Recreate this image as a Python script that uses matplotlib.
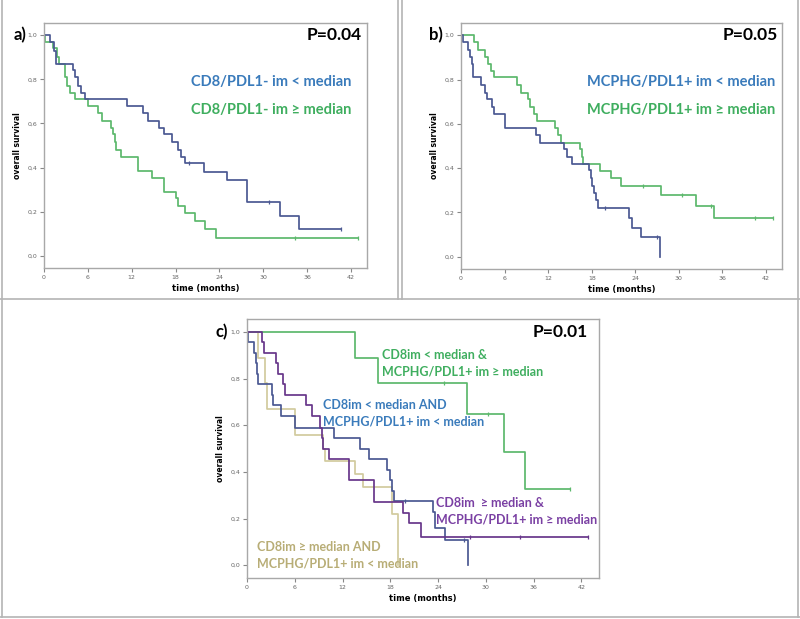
import matplotlib
matplotlib.use("Agg")
import matplotlib.pyplot as plt
from matplotlib.lines import Line2D

W, H = 800, 619

# ---- panel a: CD8/PDL1- im ----
a_lo_t = [0, 0.8, 1.4, 1.6, 3.9, 4.2, 4.6, 5.0, 5.6, 11.3, 13.6, 14.2, 15.8, 16.4,
          17.5, 18.3, 18.8, 19.3, 21.9, 25.0, 27.8, 32.3, 34.9, 40.7]
a_lo_s = [1.0, 0.97, 0.93, 0.87, 0.84, 0.81, 0.77, 0.74, 0.71, 0.68, 0.645, 0.61, 0.58, 0.55,
          0.515, 0.48, 0.45, 0.42, 0.38, 0.345, 0.245, 0.18, 0.12, 0.12]
a_lo_cens_t = [19.8, 30.8, 40.7]
a_lo_cens_s = [0.42, 0.245, 0.12]

a_hi_t = [0, 0.2, 1.2, 1.8, 2.1, 2.9, 3.2, 3.5, 4.3, 6.0, 7.4, 8.0, 9.2, 9.5, 9.7, 9.9,
          10.5, 12.8, 14.8, 16.4, 18.0, 18.3, 19.3, 20.6, 22.0, 23.5, 42.9]
a_hi_s = [1.0, 0.97, 0.94, 0.90, 0.87, 0.81, 0.77, 0.74, 0.71, 0.68, 0.645, 0.61, 0.58, 0.55, 0.515, 0.48,
          0.45, 0.385, 0.355, 0.29, 0.26, 0.225, 0.195, 0.16, 0.12, 0.08, 0.08]
a_hi_cens_t = [34.4, 42.9]
a_hi_cens_s = [0.08, 0.08]

# ---- panel b: MCPHG/PDL1+ im ----
b_lo_t = [0, 0.3, 1.0, 1.3, 1.5, 1.6, 1.7, 2.8, 3.3, 3.6, 4.3, 4.5, 6.0, 10.3, 10.9, 14.2,
          14.6, 15.3, 17.6, 17.9, 18.0, 18.3, 18.6, 18.9, 23.2, 23.5, 24.8, 27.4]
b_lo_s = [1.0, 0.97, 0.935, 0.90, 0.87, 0.84, 0.81, 0.775, 0.74, 0.71, 0.675, 0.645, 0.58, 0.55, 0.515, 0.485,
          0.45, 0.42, 0.39, 0.355, 0.32, 0.29, 0.255, 0.22, 0.175, 0.13, 0.088, 0.0]
b_lo_cens_t = [19.8, 27.0]
b_lo_cens_s = [0.22, 0.088]

b_hi_t = [0, 1.8, 2.3, 3.3, 3.7, 4.1, 4.6, 7.7, 8.2, 9.2, 9.5, 10.0, 10.4, 12.9, 13.3, 13.8,
          16.4, 16.6, 16.8, 19.1, 20.7, 22.0, 27.6, 32.4, 34.9, 42.9]
b_hi_s = [1.0, 0.97, 0.935, 0.90, 0.87, 0.84, 0.81, 0.775, 0.74, 0.71, 0.675, 0.645, 0.615, 0.58, 0.55, 0.515,
          0.485, 0.45, 0.42, 0.385, 0.355, 0.32, 0.28, 0.23, 0.175, 0.175]
b_hi_cens_t = [25.0, 30.4, 34.4, 40.5, 42.9]
b_hi_cens_s = [0.32, 0.28, 0.23, 0.175, 0.175]

# ---- panel c: combined groups ----
c_green_t = [0, 13.6, 16.4, 27.6, 32.3, 34.9, 40.6]
c_green_s = [1.0, 0.89, 0.78, 0.65, 0.485, 0.325, 0.325]
c_green_cens_t = [24.7, 30.2, 40.6]
c_green_cens_s = [0.78, 0.65, 0.325]

c_blue_t = [0, 0.1, 0.9, 1.1, 1.3, 1.4, 3.1, 3.3, 4.3, 6.0, 10.9, 14.2, 15.3, 17.6, 17.9,
            18.2, 18.5, 23.3, 23.6, 24.9, 27.8]
c_blue_s = [1.0, 0.955, 0.91, 0.865, 0.82, 0.775, 0.73, 0.685, 0.64, 0.59, 0.545, 0.5, 0.455, 0.41, 0.365,
            0.32, 0.275, 0.23, 0.16, 0.11, 0.0]
c_blue_cens_t = [19.8, 27.2]
c_blue_cens_s = [0.275, 0.11]

c_purple_t = [0, 1.9, 2.1, 3.6, 3.9, 4.5, 4.8, 7.4, 8.1, 9.2, 9.4, 9.6, 10.3, 12.8, 16.0,
              19.6, 20.3, 21.9, 42.8]
c_purple_s = [1.0, 0.955, 0.91, 0.865, 0.82, 0.775, 0.73, 0.685, 0.64, 0.59, 0.545, 0.5, 0.455, 0.365, 0.27,
              0.225, 0.18, 0.12, 0.12]
c_purple_cens_t = [28.0, 34.3, 42.8]
c_purple_cens_s = [0.12, 0.12, 0.12]

c_tan_t = [0, 1.4, 2.3, 2.5, 6.0, 9.5, 9.8, 13.6, 14.6, 18.2, 18.9]
c_tan_s = [1.0, 0.89, 0.78, 0.67, 0.56, 0.5, 0.445, 0.39, 0.335, 0.22, 0.0]

x_ticks = [0, 6, 12, 18, 24, 30, 36, 42]
y_ticks = [0.0, 0.2, 0.4, 0.6, 0.8, 1.0]
y_ticklabels = ["0,0", "0,2", "0,4", "0,6", "0,8", "1,0"]

# colours
LINE_BLUE = "#4b5892"
LINE_GREEN = "#5cb86c"
LINE_PURPLE = "#67368a"
LINE_TAN = "#d2cb9e"
TXT_BLUE = "#3a7bbb"
TXT_GREEN = "#3fae5f"
TXT_PURPLE = "#7a40a3"
TXT_TAN = "#b8ad76"
FRAME = "#a8a8a8"
FONT = "Lato"

fig = plt.figure(figsize=(8, 6.19), dpi=100)


def px_axes(left, top, right, bottom):
    return fig.add_axes([left / W, 1 - bottom / H, (right - left) / W, (bottom - top) / H])


def ftext(x, y, s, **kw):
    fig.text(x / W, 1 - y / H, s, va="center", **kw)


def hline(x0, x1, y, **kw):
    fig.add_artist(Line2D([x0 / W, x1 / W], [1 - y / H, 1 - y / H], transform=fig.transFigure, **kw))


def vline(x, y0, y1, **kw):
    fig.add_artist(Line2D([x / W, x / W], [1 - y0 / H, 1 - y1 / H], transform=fig.transFigure, **kw))


def km(ax, t, s, color, ct=None, cs=None):
    ax.step(t, s, where="post", color=color, lw=1.25)
    if ct:
        ax.plot(ct, cs, ls="none", marker="|", ms=3, mew=0.9, color=color)


def style(ax):
    ax.set_xlim(0, 44.2)
    ax.set_ylim(-0.055, 1.055)
    ax.set_xticks(x_ticks)
    ax.set_xticklabels([str(v) for v in x_ticks])
    ax.set_yticks(y_ticks)
    ax.set_yticklabels(y_ticklabels)
    ax.tick_params(labelsize=4.5, length=3, width=0.8, color="#888888", labelcolor="#666666", pad=2)
    for sp in ax.spines.values():
        sp.set_color(FRAME)
        sp.set_linewidth(1.0)
    ax.set_xlabel("time (months)", fontsize=6, fontweight="bold", labelpad=3, family="DejaVu Sans")
    ax.set_ylabel("overall survival", fontsize=5.5, fontweight="bold", labelpad=4, family="DejaVu Sans")


# panel a
ax = px_axes(44, 23, 367, 268)
km(ax, a_hi_t, a_hi_s, LINE_GREEN, a_hi_cens_t, a_hi_cens_s)
km(ax, a_lo_t, a_lo_s, LINE_BLUE, a_lo_cens_t, a_lo_cens_s)
style(ax)
ftext(14, 35, "a)", fontsize=12, fontweight="bold", family=FONT)
ftext(362, 35, "P=0.04", fontsize=12.5, fontweight="bold", family=FONT, ha="right")
ftext(191, 82, "CD8/PDL1- im < median", fontsize=10.5, fontweight="bold", family=FONT, color=TXT_BLUE)
ftext(191, 110, "CD8/PDL1- im \u2265 median", fontsize=10.5, fontweight="bold", family=FONT, color=TXT_GREEN)

# panel b
ax = px_axes(461, 23, 782, 269)
km(ax, b_hi_t, b_hi_s, LINE_GREEN, b_hi_cens_t, b_hi_cens_s)
km(ax, b_lo_t, b_lo_s, LINE_BLUE, b_lo_cens_t, b_lo_cens_s)
style(ax)
ftext(429, 35, "b)", fontsize=12, fontweight="bold", family=FONT)
ftext(778, 35, "P=0.05", fontsize=12.5, fontweight="bold", family=FONT, ha="right")
ftext(587, 82, "MCPHG/PDL1+ im < median", fontsize=10.5, fontweight="bold", family=FONT, color=TXT_BLUE)
ftext(587, 110, "MCPHG/PDL1+ im \u2265 median", fontsize=10.5, fontweight="bold", family=FONT, color=TXT_GREEN)

# panel c
ax = px_axes(247, 319, 599, 578)
km(ax, c_tan_t, c_tan_s, LINE_TAN)
km(ax, c_green_t, c_green_s, LINE_GREEN, c_green_cens_t, c_green_cens_s)
km(ax, c_blue_t, c_blue_s, LINE_BLUE, c_blue_cens_t, c_blue_cens_s)
km(ax, c_purple_t, c_purple_s, LINE_PURPLE, c_purple_cens_t, c_purple_cens_s)
style(ax)
ftext(216, 332, "c)", fontsize=12, fontweight="bold", family=FONT)
ftext(588, 332, "P=0.01", fontsize=12.5, fontweight="bold", family=FONT, ha="right")
CS = 9.0
ftext(382, 355, "CD8im < median &", fontsize=CS, fontweight="bold", family=FONT, color=TXT_GREEN)
ftext(382, 372, "MCPHG/PDL1+ im \u2265 median", fontsize=CS, fontweight="bold", family=FONT, color=TXT_GREEN)
ftext(323, 405, "CD8im < median AND", fontsize=CS, fontweight="bold", family=FONT, color=TXT_BLUE)
ftext(323, 421, "MCPHG/PDL1+ im < median", fontsize=CS, fontweight="bold", family=FONT, color=TXT_BLUE)
ftext(436, 503, "CD8im  \u2265 median &", fontsize=CS, fontweight="bold", family=FONT, color=TXT_PURPLE)
ftext(436, 519, "MCPHG/PDL1+ im \u2265 median", fontsize=CS, fontweight="bold", family=FONT, color=TXT_PURPLE)
ftext(257, 547, "CD8im \u2265 median AND", fontsize=CS, fontweight="bold", family=FONT, color=TXT_TAN)
ftext(257, 563, "MCPHG/PDL1+ im < median", fontsize=CS, fontweight="bold", family=FONT, color=TXT_TAN)

# panel frames
kw = dict(color="#b4b4b4", lw=1.2)
vline(1.5, 0, 617, **kw)
vline(398, 0, 299, **kw)
vline(402, 0, 299, **kw)
vline(798, 0, 617, **kw)
hline(0, 800, 299, **kw)
hline(0, 800, 617, **kw)

fig.savefig("out.png", dpi=100)
